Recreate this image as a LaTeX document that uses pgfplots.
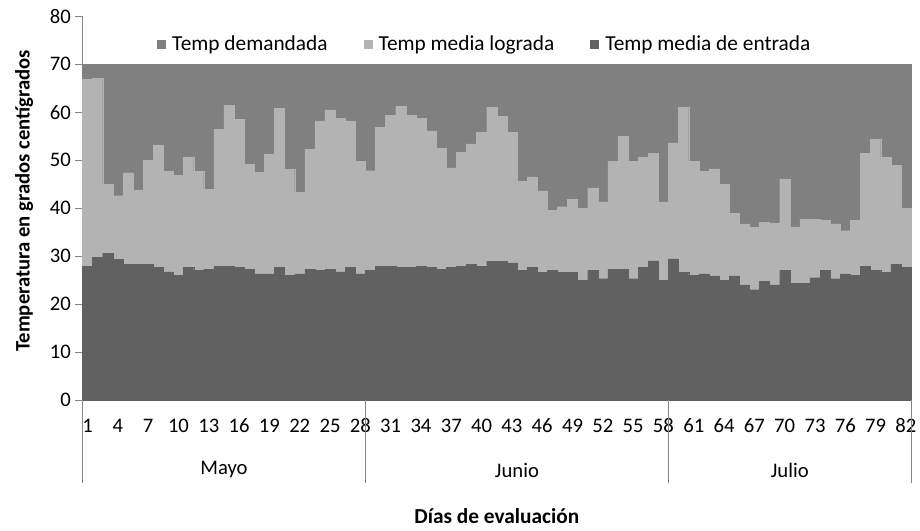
\documentclass[border=0pt]{standalone}
\usepackage{pgfplots}
\pgfplotsset{compat=1.18}
\usepackage{pgfplotstable}
\usepackage{fontspec}
\setmainfont{Carlito}
\usetikzlibrary{calc}
\definecolor{cdem}{HTML}{808080}
\definecolor{clog}{HTML}{B3B3B3}
\definecolor{cent}{HTML}{616161}
\definecolor{caxis}{HTML}{868686}
\pgfplotstableread{
dia dem lograda entrada
1 70 66.9 27.9
2 70 67.1 29.7
3 70 45.0 30.6
4 70 42.6 29.3
5 70 47.4 28.3
6 70 43.8 28.3
7 70 50.0 28.3
8 70 53.2 27.7
9 70 47.7 26.7
10 70 46.8 26.0
11 70 50.7 27.7
12 70 47.7 27.0
13 70 43.9 27.3
14 70 56.4 27.9
15 70 61.4 27.9
16 70 58.5 27.7
17 70 49.1 27.3
18 70 47.5 26.3
19 70 51.2 26.3
20 70 60.8 27.7
21 70 48.1 26.0
22 70 43.3 26.3
23 70 52.3 27.3
24 70 58.2 27.0
25 70 60.5 27.3
26 70 58.7 26.7
27 70 58.2 27.7
28 70 49.8 26.3
29 70 47.8 27.0
30 70 56.8 27.9
31 70 59.4 27.9
32 70 61.2 27.6
33 70 59.4 27.6
34 70 58.7 27.9
35 70 56.1 27.7
36 70 52.5 27.3
37 70 48.4 27.7
38 70 51.7 27.9
39 70 53.4 28.3
40 70 55.8 27.9
41 70 61.0 28.9
42 70 59.1 28.9
43 70 55.8 28.6
44 70 45.6 27.0
45 70 46.5 27.6
46 70 43.6 26.6
47 70 39.5 27.0
48 70 40.3 26.6
49 70 41.8 26.6
50 70 40.0 25.0
51 70 44.2 27.0
52 70 41.3 25.3
53 70 49.7 27.3
54 70 55.0 27.3
55 70 49.7 25.3
56 70 50.6 27.7
57 70 51.4 29.0
58 70 41.3 25.0
59 70 53.6 29.4
60 70 61.0 26.6
61 70 49.8 26.0
62 70 47.7 26.3
63 70 48.2 25.9
64 70 45.0 25.0
65 70 38.9 25.9
66 70 36.7 24.0
67 70 36.0 23.0
68 70 37.0 24.7
69 70 36.8 24.0
70 70 46.1 27.0
71 70 36.1 24.3
72 70 37.7 24.3
73 70 37.7 25.5
74 70 37.4 27.0
75 70 36.7 25.3
76 70 35.3 26.3
77 70 37.4 26.0
78 70 51.4 27.9
79 70 54.3 27.0
80 70 50.6 26.6
81 70 48.9 28.3
82 70 39.9 27.6
}\datos
\begin{document}
\begin{tikzpicture}
\begin{axis}[
  scale only axis, width=621.4pt, height=287.8pt,
  xmin=0.5, xmax=82.5, ymin=0, ymax=80,
  clip=false,
  axis x line=bottom, axis y line=left,
  axis line style={caxis, line width=0.6pt, -},
  ytick={0,10,...,80}, tick align=outside, major tick length=5.25pt,
  y tick style={caxis, line width=0.6pt},
  xtick={1,4,...,82}, x tick style={draw=none},
  /pgf/number format/assume math mode=true,
  tick label style={font=\fontsize{15.5}{18}\selectfont},
  xticklabel style={anchor=center, yshift=-14pt},
  yticklabel style={anchor=east},
  xlabel={\bfseries Días de evaluación},
  xlabel style={at={(axis description cs:0.5,0)}, anchor=center, yshift=-87pt, font=\fontsize{16}{19}\selectfont},
  ylabel={\bfseries Temperatura en grados centígrados},
  ylabel style={at={(axis description cs:-0.0706,0.519)}, anchor=center, font=\fontsize{15.5}{18}\selectfont},
  legend style={at={(0.486,0.928)}, anchor=center, draw=none, fill=none,
    legend columns=3, font=\fontsize{16}{19}\selectfont,
    /tikz/every odd column/.append style={column sep=3pt},
    /tikz/every even column/.append style={column sep=25pt}},
]
\addplot[ybar, bar width=1, bar shift=0pt, fill=cdem, draw=cdem, line width=0.2pt,
  legend image code/.code={\fill[cdem] (0pt,-3pt) rectangle (6pt,3pt);}] table[x=dia,y=dem]{\datos};
\addlegendentry{Temp demandada}
\addplot[ybar, bar width=1, bar shift=0pt, fill=clog, draw=clog, line width=0.2pt,
  legend image code/.code={\fill[clog] (0pt,-3pt) rectangle (6pt,3pt);}] table[x=dia,y=lograda]{\datos};
\addlegendentry{Temp media lograda}
\addplot[ybar, bar width=1, bar shift=0pt, fill=cent, draw=cent, line width=0.2pt,
  legend image code/.code={\fill[cent] (0pt,-3pt) rectangle (6pt,3pt);}] table[x=dia,y=entrada]{\datos};
\addlegendentry{Temp media de entrada}
\draw[caxis, line width=0.6pt] (axis cs:0.5,0) -- ++(0pt,-62.25pt);
\draw[caxis, line width=0.6pt] (axis cs:28.5,0) -- ++(0pt,-62.25pt);
\draw[caxis, line width=0.6pt] (axis cs:58.5,0) -- ++(0pt,-62.25pt);
\draw[caxis, line width=0.6pt] (axis cs:82.5,0) -- ++(0pt,-62.25pt);
\node[font=\fontsize{15.5}{18}\selectfont] at ($(axis cs:14.5,0)+(0pt,-52.5pt)$) {Mayo};
\node[font=\fontsize{15.5}{18}\selectfont] at ($(axis cs:43.5,0)+(0pt,-52.5pt)$) {Junio};
\node[font=\fontsize{15.5}{18}\selectfont] at ($(axis cs:70.5,0)+(0pt,-52.5pt)$) {Julio};
\coordinate (sw) at (rel axis cs:0,0);
\coordinate (ne) at (rel axis cs:1,1);
\end{axis}
\pgfresetboundingbox
\path[use as bounding box] ($(sw)+(-61.875pt,-98.25pt)$) rectangle ($(ne)+(6.75pt,12.2pt)$);
\end{tikzpicture}
\end{document}
